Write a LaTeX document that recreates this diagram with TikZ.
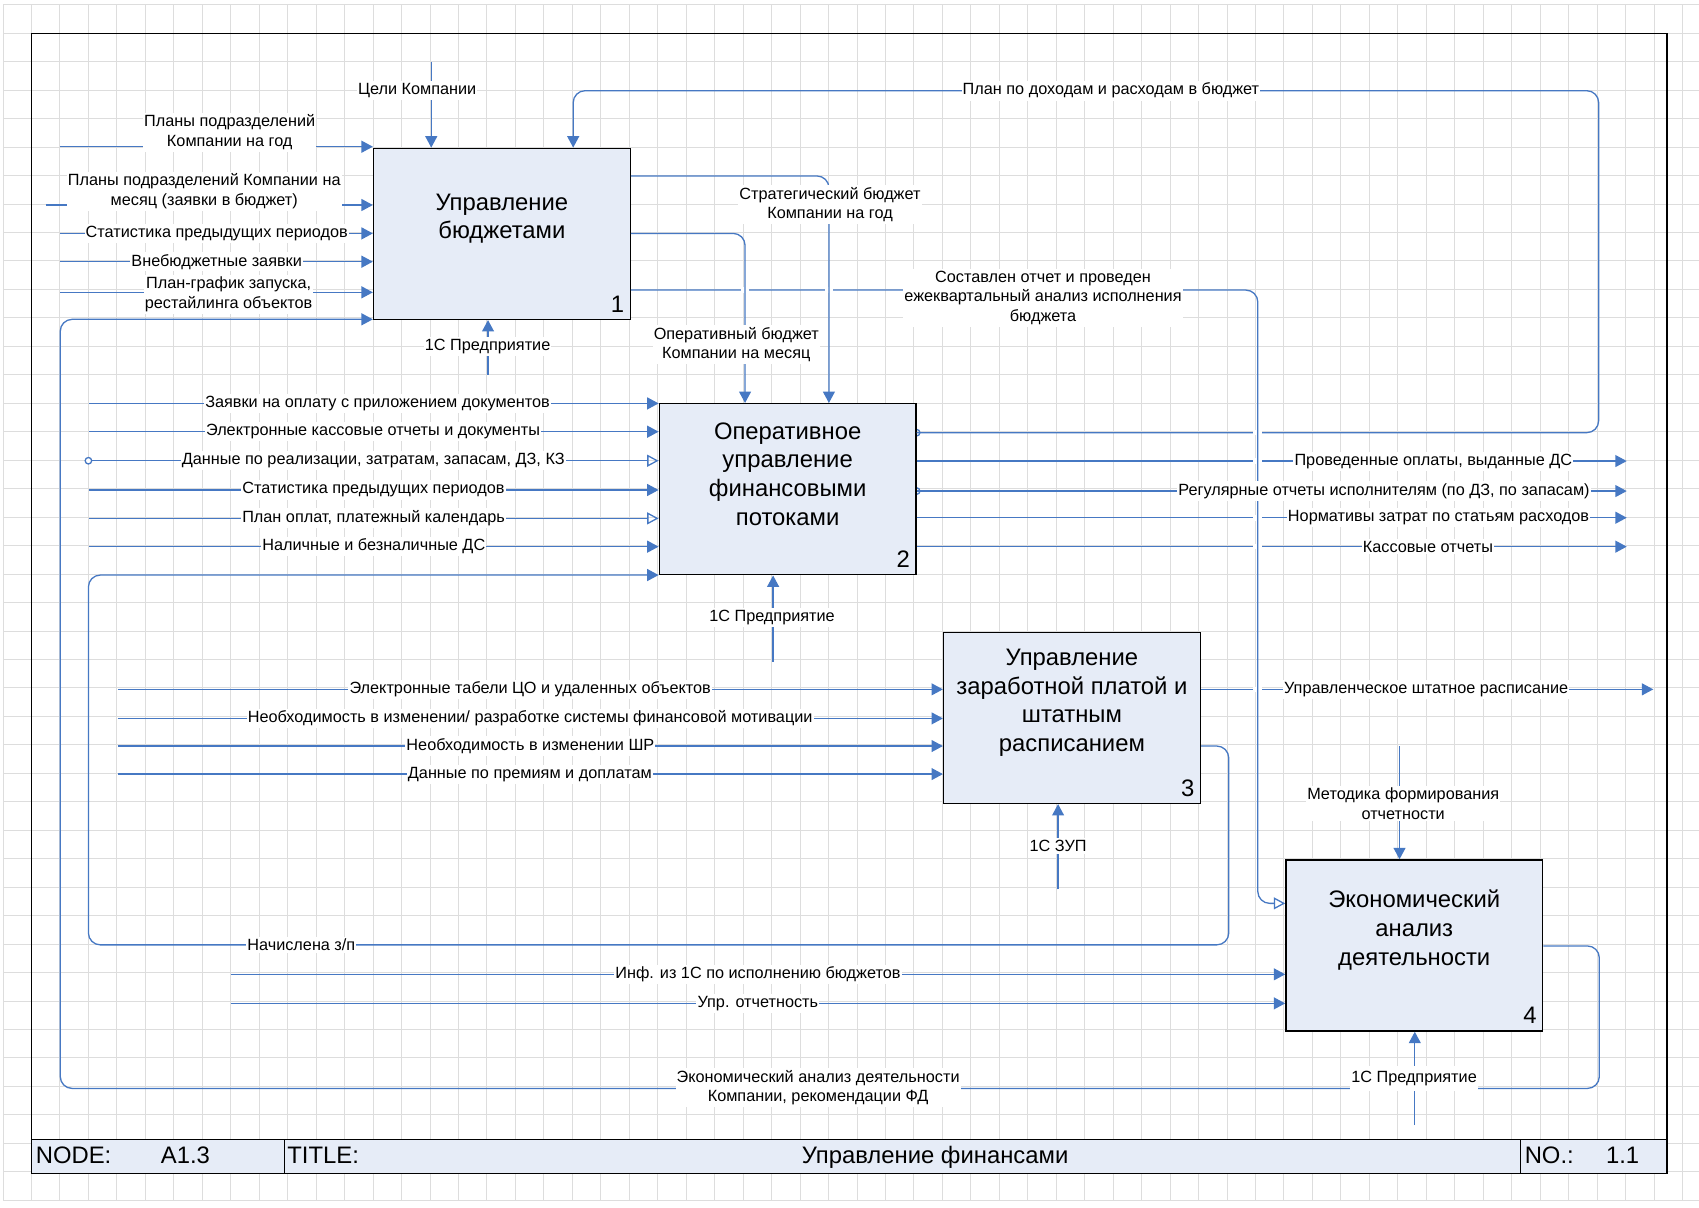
\documentclass[tikz,border=0pt]{standalone}
\usepackage{fontspec}
\setmainfont{Liberation Sans}
\usetikzlibrary{arrows.meta,calc}
\pgfdeclarelayer{bg}
\pgfdeclarelayer{mid}
\pgfsetlayers{bg,mid,main}
\definecolor{lineblue}{RGB}{70,120,195}
\definecolor{boxfill}{RGB}{230,236,247}
\definecolor{gridgray}{RGB}{221,221,221}
\newcommand\gapat[2]{\fill[white] ({#1-4},{#2-2.6}) rectangle ({#1+4},{#2+2.6});}
\begin{document}
\begin{tikzpicture}[x=1pt,y=-1pt,
  gridline/.style={draw=gridgray,line width=0.9pt},
  con/.style={draw=lineblue,line width=1.2pt},
  arr/.style={con,-{Triangle[length=10.5pt,width=11pt]}},
  oarr/.style={con,-{Triangle[open,length=10.5pt,width=11pt]}},
  rc/.style={rounded corners=11pt},
  lbl/.style={fill=white,inner xsep=1pt,inner ysep=2pt,font=\fontsize{15}{18}\selectfont,align=center},
  box/.style={draw=black,line width=1.2pt,fill=boxfill,minimum width=237pt,minimum height=158pt,inner sep=0pt},
  ttl/.style={font=\fontsize{22}{26.6}\selectfont,align=center},
  num/.style={font=\fontsize{22}{26}\selectfont,anchor=south east,inner sep=0pt},
  bar/.style={font=\fontsize{22}{26}\selectfont,anchor=base west,inner sep=0pt}
]
\useasboundingbox (0,0) rectangle (1568,1114);
\begin{pgfonlayer}{bg}
\fill[white] (0,0) rectangle (1568,1114);
\foreach \i in {0,...,59}{\draw[gridline] ({2.8+26.27*\i},4.4) -- ({2.8+26.27*\i},1107.7);}
\foreach \j in {0,...,42}{\draw[gridline] (2.8,{4.4+26.27*\j}) -- (1568,{4.4+26.27*\j});}
\end{pgfonlayer}

% frame and title bar
\draw[line width=1.2pt] (29,30.8) rectangle (1538.5,1083);
\draw[line width=1.2pt,fill=boxfill] (29,1051.5) rectangle (1538.5,1083);
\draw[line width=1.2pt] (262.8,1051.5) -- (262.8,1083);
\draw[line width=1.2pt] (1403,1051.5) -- (1403,1083);
\node[bar] (nodel) at (32.9,1073.7) {NODE:};
\node[bar] (nodev) at (148.3,1073.7) {A1.3};
\node[bar] (titlel) at (265,1073.7) {TITLE:};
\node[bar,anchor=base] (titlev) at (863,1073.7) {Управление финансами};
\node[bar] (nol) at (1407,1073.7) {NO.:};
\node[bar] (nov) at (1482,1073.7) {1.1};

% boxes
\node[box] (b1) at (463.2,215.8) {};
\node[box] (b2) at (726.9,451.5) {};
\node[box] (b3) at (989.3,662.5) {};
\node[box] (b4) at (1305.2,872.6) {};
\node[ttl] (t1) at ($(b1.center)+(0,-14)$) {Управление\\бюджетами};
\node[ttl] (t2) at ($(b2.center)+(0,-14)$) {Оперативное\\управление\\финансовыми\\потоками};
\node[ttl] (t3) at ($(b3.center)+(0,-14)$) {Управление\\заработной платой и\\штатным\\расписанием};
\node[ttl] (t4) at ($(b4.center)+(0,-14)$) {Экономический\\анализ\\деятельности};
\node[num] (n1) at ($(b1.south east)+(-6,-7)$) {1};
\node[num] (n2) at ($(b2.south east)+(-6,-7)$) {2};
\node[num] (n3) at ($(b3.south east)+(-6,-7)$) {3};
\node[num] (n4) at ($(b4.south east)+(-6,-7)$) {4};

% free ends
\coordinate (a1) at (55.6,135.4);
\coordinate (a2) at (42.4,189.2);
\coordinate (a3) at (55.6,215.4);
\coordinate (a4) at (55.6,241.5);
\coordinate (a5) at (55.6,269.8);
\coordinate (k1) at (398,57);
\coordinate (m1) at (450.4,346);
\coordinate (i1) at (82.4,372.3);
\coordinate (i2) at (82.4,398.4);
\coordinate (i3) at (84.6,425.2);
\coordinate (i3c) at (81.6,425.2);
\coordinate (i4) at (82.4,452.2);
\coordinate (i5) at (82.4,478.4);
\coordinate (i6) at (82.4,504.5);
\coordinate (m2) at (713.5,610.7);
\coordinate (q1) at (108.6,636.2);
\coordinate (q2) at (108.6,663);
\coordinate (q3) at (108.6,688.5);
\coordinate (q4) at (108.6,714.4);
\coordinate (m3) at (976.5,820.8);
\coordinate (k4) at (1291.6,688.5);
\coordinate (s1) at (213.5,899.2);
\coordinate (s2) at (213.5,926);
\coordinate (m4) at (1305.7,1038.3);
\coordinate (p2e) at (1501.3,425.5);
\coordinate (p3e) at (1501.3,453.2);
\coordinate (p4e) at (1501.3,477.8);
\coordinate (p5e) at (1501.3,504.5);
\coordinate (r1e) at (1525.8,636.2);

% small connection circles
\begin{pgfonlayer}{mid}
\draw[con,fill=white] (i3c) circle (3pt);
\draw[con] (b2.east |- 0,399.3) circle (3pt);
\draw[con] (b2.east |- 0,453.2) circle (3pt);
\end{pgfonlayer}

% box 1 inputs, control, mechanism
\draw[arr] (a1) -- (a1 -| b1.west);
\draw[arr] (a2) -- (a2 -| b1.west);
\draw[arr] (a3) -- (a3 -| b1.west);
\draw[arr] (a4) -- (a4 -| b1.west);
\draw[arr] (a5) -- (a5 -| b1.west);
\draw[arr] (k1) -- (k1 |- b1.north);
\draw[arr] (m1) -- (m1 |- b1.south);

% box 2 inputs, mechanism
\draw[arr] (i1) -- (i1 -| b2.west);
\draw[arr] (i2) -- (i2 -| b2.west);
\draw[oarr] (i3) -- (i3 -| b2.west);
\draw[arr] (i4) -- (i4 -| b2.west);
\draw[oarr] (i5) -- (i5 -| b2.west);
\draw[arr] (i6) -- (i6 -| b2.west);
\draw[arr] (m2) -- (m2 |- b2.south);

% box 2 outputs
\draw[arr,rc] (b2.east |- 0,399.3) -- (1475.4,399.3) -- (1475.4,83.7) -- (529,83.7) -- (529,83.7 |- b1.north);
\draw[arr] (b2.east |- p2e) -- (p2e);
\draw[arr] (b2.east |- p3e) -- (p3e);
\draw[arr] (b2.east |- p4e) -- (p4e);
\draw[arr] (b2.east |- p5e) -- (p5e);

% box 3
\draw[arr] (q1) -- (q1 -| b3.west);
\draw[arr] (q2) -- (q2 -| b3.west);
\draw[arr] (q3) -- (q3 -| b3.west);
\draw[arr] (q4) -- (q4 -| b3.west);
\draw[arr] (m3) -- (m3 |- b3.south);
\draw[arr] (b3.east |- r1e) -- (r1e);
\draw[arr,rc] (b3.east |- 0,688.5) -- (1134,688.5) -- (1134,872) -- (81.6,872) -- (81.6,530.7) -- (b2.west |- 0,530.7);

% box 4
\draw[arr] (k4) -- (k4 |- b4.north);
\draw[arr] (s1) -- (s1 -| b4.west);
\draw[arr] (s2) -- (s2 -| b4.west);
\draw[arr] (m4) -- (m4 |- b4.south);
\draw[arr,rc] (b4.east |- 0,873) -- (1476,873) -- (1476,1004.5) -- (55.6,1004.5) -- (55.6,294.7) -- (b1.west |- 0,294.7);

% line jumps at x=1160.8
\gapat{1160.8}{399.3}
\gapat{1160.8}{425.5}
\gapat{1160.8}{477.8}
\gapat{1160.8}{504.5}
\gapat{1160.8}{636.2}

% box 1 outputs
\draw[oarr,rc] (b1.east |- 0,267.7) -- (1160.8,267.7) -- (1160.8,833.7) -- (b4.west |- 0,833.7);
\gapat{687.6}{267.7}
\gapat{765}{267.7}
\draw[arr,rc] (b1.east |- 0,162.4) -- (765,162.4) -- (765,162.4 |- b2.north);
\draw[arr,rc] (b1.east |- 0,215.4) -- (687.6,215.4) -- (687.6,215.4 |- b2.north);

% labels
\node[lbl] (la1) at (212,122) {Планы подразделений\\Компании на год};
\node[lbl] (la2) at (188.5,176.6) {Планы подразделений Компании на\\месяц (заявки в бюджет)};
\node[lbl] (la3) at (200,215.4) {Статистика предыдущих периодов};
\node[lbl] (la4) at (200,241.5) {Внебюджетные заявки};
\node[lbl] (la5) at (211,271.5) {План-график запуска,\\рестайлинга объектов};
\node[lbl] (lk1) at (385,83.5) {Цели Компании};
\node[lbl] (lm1) at (450,320) {1С Предприятие};
\node[lbl] (lo1) at (766,188.6) {Стратегический бюджет\\Компании на год};
\node[lbl] (lo2) at (679.5,318) {Оперативный бюджет\\Компании на месяц};
\node[lbl] (lo3) at (962.6,274.9) {Составлен отчет и проведен\\ежеквартальный анализ исполнения\\бюджета};
\node[lbl] (lp1) at (1025.3,83.7) {План по доходам и расходам в бюджет};
\node[lbl] (li1) at (348.4,372.3) {Заявки на оплату с приложением документов};
\node[lbl] (li2) at (344.3,398.4) {Электронные кассовые отчеты и документы};
\node[lbl] (li3) at (344.5,425.2) {Данные по реализации, затратам, запасам, ДЗ, КЗ};
\node[lbl] (li4) at (344.7,452.2) {Статистика предыдущих периодов};
\node[lbl] (li5) at (344.8,478.4) {План оплат, платежный календарь};
\node[lbl] (li6) at (345,504.5) {Наличные и безналичные ДС};
\node[lbl] (lm2) at (712.5,569.8) {1С Предприятие};
\node[lbl] (lp2) at (1322.8,425.5) {Проведенные оплаты, выданные ДС};
\node[lbl] (lp3) at (1277.3,453.2) {Регулярные отчеты исполнителям (по ДЗ, по запасам)};
\node[lbl] (lp4) at (1327.6,477.8) {Нормативы затрат по статьям расходов};
\node[lbl] (lp5) at (1317.8,504.5) {Кассовые отчеты};
\node[lbl] (lq1) at (489.3,636.2) {Электронные табели ЦО и удаленных объектов};
\node[lbl] (lq2) at (489.3,663) {Необходимость в изменении/ разработке системы финансовой мотивации};
\node[lbl] (lq3) at (489.5,688.5) {Необходимость в изменении ШР};
\node[lbl] (lq4) at (489,714.4) {Данные по премиям и доплатам};
\node[lbl] (lr1) at (1316.2,636.2) {Управленческое штатное расписание};
\node[lbl] (lr2) at (278.1,872) {Начислена з/п};
\node[lbl] (lm3) at (976.5,780.5) {1С ЗУП};
\node[lbl] (lk4) at (1295,741.5) {Методика формирования\\отчетности};
\node[lbl] (ls1) at (699.5,899.2) {Инф. из 1С по исполнению бюджетов};
\node[lbl] (ls2) at (699.4,926) {Упр. отчетность};
\node[lbl,inner ysep=5pt] (lm4) at (1305,995.2) {1С Предприятие};
\node[lbl] (lt1) at (755,1003.7) {Экономический анализ деятельности\\Компании, рекомендации ФД};
\end{tikzpicture}
\end{document}
